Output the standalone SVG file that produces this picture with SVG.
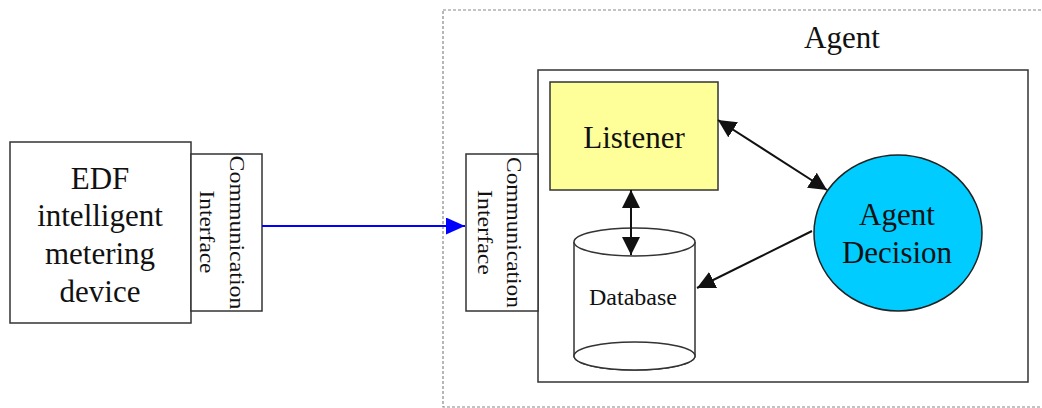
<svg xmlns="http://www.w3.org/2000/svg" width="1042" height="408" viewBox="0 0 1042 408">
<style>
  .box{fill:#fff;stroke:#333;stroke-width:1.5}
  .t{font-family:"Liberation Serif","Times New Roman",serif;fill:#111;text-anchor:middle}
  .big{font-size:31px}
  .rot{font-size:22px}
  .con{stroke:#111;stroke-width:2;fill:none}
</style>
<defs>
  <marker id="ah" viewBox="0 0 18 18" refX="18" refY="9" markerWidth="18" markerHeight="18" markerUnits="userSpaceOnUse" orient="auto-start-reverse">
    <path d="M0,0 L18,9 L0,18 z" fill="#111"/>
  </marker>
  <marker id="ahb" viewBox="0 0 19 17" refX="19" refY="8.5" markerWidth="19" markerHeight="17" markerUnits="userSpaceOnUse" orient="auto">
    <path d="M0,0 L19,8.5 L0,17 z" fill="#0000ff"/>
  </marker>
</defs>
<rect width="1042" height="408" fill="#fff"/>
<g id="agent-container">
  <rect x="443" y="10" width="620" height="397" fill="none" stroke="#888" stroke-width="1.2" stroke-dasharray="3,2"/>
  <text class="t big" x="842" y="48">Agent</text>
  <rect class="box" x="538" y="70" width="490" height="312"/>
</g>
<g id="edf-device">
  <rect class="box" x="10" y="142" width="181" height="181"/>
  <text class="t big" x="100" y="189">EDF</text>
  <text class="t big" x="100" y="226">intelligent</text>
  <text class="t big" x="100" y="264">metering</text>
  <text class="t big" x="100" y="302">device</text>
</g>
<g id="comm-left">
  <rect class="box" x="191" y="154" width="71" height="157"/>
  <text class="t rot" transform="translate(230,232.5) rotate(90)" textLength="154" lengthAdjust="spacingAndGlyphs">Communication</text>
  <text class="t rot" transform="translate(200,232) rotate(90)" textLength="83" lengthAdjust="spacingAndGlyphs">Interface</text>
</g>
<g id="comm-right">
  <rect class="box" x="466" y="154" width="72" height="157"/>
  <text class="t rot" transform="translate(507,232.5) rotate(90)" textLength="151" lengthAdjust="spacingAndGlyphs">Communication</text>
  <text class="t rot" transform="translate(478,232.5) rotate(90)" textLength="85" lengthAdjust="spacingAndGlyphs">Interface</text>
</g>
<g id="listener">
  <rect x="550" y="82" width="168" height="108" fill="#ffff99" stroke="#333" stroke-width="1.5"/>
  <text class="t big" x="634" y="148">Listener</text>
</g>
<g id="database">
  <path d="M574,242 L574,356 A60.5,14 0 0 0 695,356 L695,242" fill="#fff" stroke="#333" stroke-width="1.5"/>
  <ellipse cx="634.5" cy="356" rx="60.5" ry="14" fill="#fff" stroke="#333" stroke-width="1.5"/>
  <ellipse cx="634.5" cy="242" rx="60.5" ry="14" fill="#fff" stroke="#333" stroke-width="1.5"/>
  <text class="t" x="633" y="305" font-size="23" textLength="88" lengthAdjust="spacingAndGlyphs">Database</text>
</g>
<g id="agent-decision">
  <ellipse cx="898" cy="233" rx="84" ry="78" fill="#00ccff" stroke="#222" stroke-width="1.5"/>
  <text class="t big" x="897" y="225">Agent</text>
  <text class="t big" x="897" y="263">Decision</text>
</g>
<g id="connectors">
  <line x1="262" y1="226" x2="465" y2="226" stroke="#0000ff" stroke-width="2" marker-end="url(#ahb)"/>
  <line class="con" x1="631" y1="190" x2="631" y2="255" marker-start="url(#ah)" marker-end="url(#ah)"/>
  <line class="con" x1="718" y1="120" x2="827" y2="190" marker-start="url(#ah)" marker-end="url(#ah)"/>
  <line class="con" x1="812" y1="231" x2="697" y2="288" marker-end="url(#ah)"/>
</g>
</svg>
